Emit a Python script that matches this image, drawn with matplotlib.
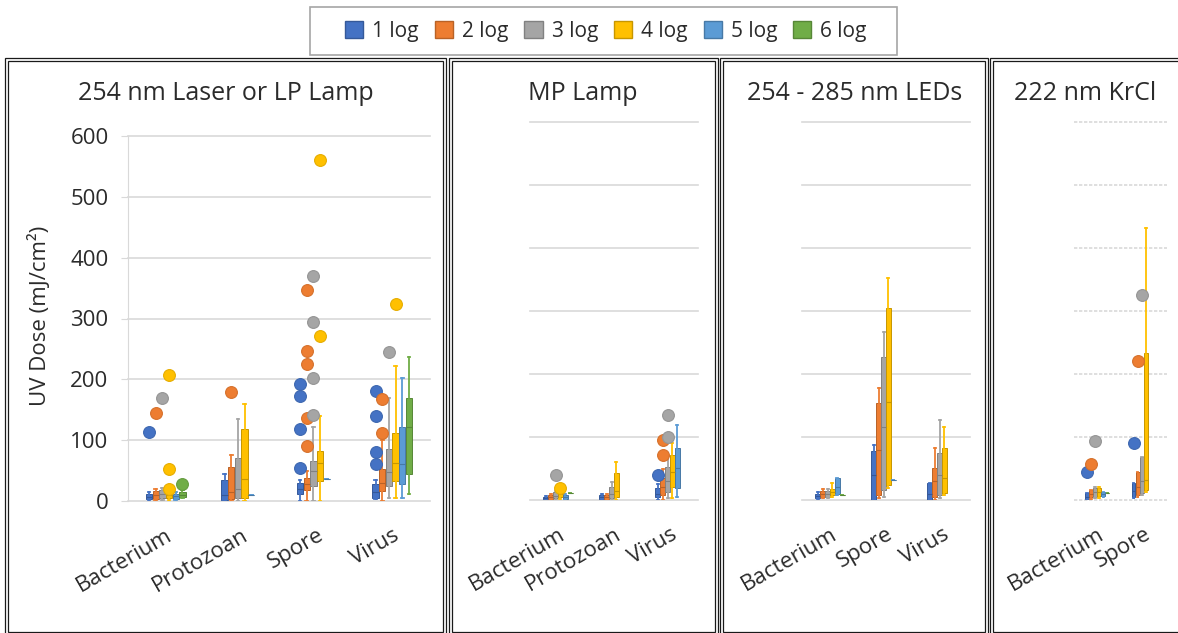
import matplotlib
matplotlib.use("Agg")
import matplotlib.pyplot as plt
import matplotlib.colors as mcolors
from matplotlib.patches import Rectangle, Patch

plt.rcParams['font.family'] = ['Open Sans', 'DejaVu Sans']

series = ["1 log", "2 log", "3 log", "4 log", "5 log", "6 log"]
colors = ["#4472C4", "#ED7D31", "#A5A5A5", "#FFC000", "#5B9BD5", "#70AD47"]

# 254 nm Laser or LP Lamp  (rows = categories, columns = 1..6 log)
laser_cats = ["Bacterium", "Protozoan", "Spore", "Virus"]
laser_lo = [[2, 2, 2, 2, 2, 5], [0, 0, 0, 0, 10, None], [0, 0, 0, 0, 36, None], [3, 0, 5, 5, 5, 12]]
laser_q1 = [[3, 4, 5, 5, 4, 7], [2, 3, 5, 5, 10, None], [12, 18, 25, 33, 36, None], [5, 16, 25, 33, 28, 45]]
laser_med = [[7, 10, 12, 10, 8, 10], [10, 15, 20, 36, 10, None], [20, 28, 50, 63, 36, None], [15, 30, 48, 63, 61, 122]]
laser_q3 = [[12, 16, 18, 15, 12, 15], [35, 56, 71, 118, 10, None], [30, 38, 66, 82, 36, None], [28, 52, 85, 111, 121, 170]]
laser_hi = [[15, 20, 22, 18, 14, 18], [45, 75, 135, 160, 10, None], [35, 49, 121, 140, 36, None], [35, 100, 170, 222, 203, 236]]
laser_out = [
    [[114], [145], [170], [20, 52, 207], [], [28]],
    [[], [180], [], [], [], []],
    [[55, 118, 173, 193], [90, 137, 226, 246, 347], [141, 202, 295, 370], [272, 561], [], []],
    [[61, 81, 140, 181], [111, 168], [245], [324], [], []],
]

# MP Lamp
mp_cats = ["Bacterium", "Protozoan", "Virus"]
mp_lo = [[0, 0, 0, 2, 0, 11], [0, 0, 0, 0, None, None], [0, 0, 3, 3, 5, None]]
mp_q1 = [[1, 2, 3, 5, 2, 11], [1, 1, 3, 5, None, None], [5, 8, 13, 21, 19, None]]
mp_med = [[3, 5, 7, 10, 5, 11], [4, 4, 10, 15, None, None], [10, 20, 30, 45, 51, None]]
mp_q3 = [[5, 8, 12, 15, 8, 11], [8, 8, 21, 43, None, None], [19, 35, 53, 71, 83, None]]
mp_hi = [[6, 10, 15, 17, 10, 11], [10, 10, 29, 61, None, None], [25, 50, 70, 90, 119, None]]
mp_out = [
    [[], [], [40], [19], [], []],
    [[], [], [], [], [], []],
    [[40], [71, 95], [100, 135], [], [], []],
]

# 254 - 285 nm LEDs
led_cats = ["Bacterium", "Spore", "Virus"]
led_lo = [[2, 3, 3, 5, 8, 8], [0, 3, 5, 19, 32, None], [0, 0, 3, 8, None, None]]
led_q1 = [[3, 5, 5, 8, 10, 8], [0, 8, 16, 24, 32, None], [0, 5, 8, 11, None, None]]
led_med = [[6, 10, 10, 12, 20, 8], [40, 80, 116, 156, 32, None], [10, 30, 40, 35, None, None]]
led_q3 = [[10, 15, 15, 18, 35, 8], [77, 154, 227, 305, 32, None], [27, 51, 74, 82, None, None]]
led_hi = [[12, 18, 18, 27, 35, 8], [87, 178, 267, 352, 32, None], [27, 82, 127, 116, None, None]]
led_out = [[[]] * 6, [[]] * 6, [[]] * 6]

# 222 nm KrCl
krcl_cats = ["Bacterium", "Spore"]
krcl_lo = [[0, 2, 3, 3, 5, 11], [3, 5, 8, 13, None, None]]
krcl_q1 = [[1, 4, 5, 6, 7, 11], [5, 8, 11, 16, None, None]]
krcl_med = [[5, 10, 12, 12, 10, 11], [15, 20, 30, 32, None, None]]
krcl_q3 = [[11, 16, 19, 19, 12, 11], [27, 45, 69, 234, None, None]]
krcl_hi = [[11, 16, 20, 21, 13, 11], [27, 45, 69, 432, None, None]]
krcl_out = [[[45], [57], [93], [], [], []], [[91], [221], [325], [], [], []]]

titles = ["254 nm Laser or LP Lamp", "MP Lamp", "254 - 285 nm LEDs", "222 nm KrCl"]

W, H = 1178, 633
TXT = "#2b2b2b"
GRID = "#D9D9D9"


def darker(c, f=0.78):
    r, g, b = mcolors.to_rgb(c)
    return (r * f, g * f, b * f)


def px_axes(fig, x0, x1, ytop, ybot):
    return fig.add_axes([x0 / W, 1 - ybot / H, (x1 - x0) / W, (ybot - ytop) / H])


def px_rect(fig, x0, y0, x1, y1, ec, lw):
    fig.add_artist(Rectangle((x0 / W, 1 - y1 / H), (x1 - x0) / W, (y1 - y0) / H,
                             transform=fig.transFigure, fill=False, ec=ec, lw=lw))


def draw_panel(ax, cats, lo, q1, med, q3, hi, out, ls="-"):
    w = 0.088
    for i, col in enumerate(colors):
        stats, pos = [], []
        for c in range(len(cats)):
            if lo[c][i] is None:
                continue
            stats.append(dict(whislo=lo[c][i], q1=q1[c][i], med=med[c][i],
                              q3=q3[c][i], whishi=hi[c][i], fliers=out[c][i]))
            pos.append(c + 0.5 + (i - 2.5) * w)
        if not stats:
            continue
        edge = darker(col)
        ax.bxp(stats, positions=pos, widths=w * 0.95, patch_artist=True, manage_ticks=False,
               capwidths=w * 0.4,
               boxprops=dict(facecolor=col, edgecolor=edge, lw=0.7),
               whiskerprops=dict(color=col, lw=1.3),
               capprops=dict(color=col, lw=1.3),
               medianprops=dict(color=edge, lw=0.8),
               flierprops=dict(marker='o', markerfacecolor=col, markeredgecolor=darker(col, 0.9),
                               markeredgewidth=0.8, markersize=8.5, zorder=4))
    ax.set_xlim(0, len(cats))
    ax.set_ylim(0, 600)
    ax.set_yticks(range(0, 700, 100))
    ax.grid(axis='y', color=GRID, lw=1.2, ls=ls)
    ax.set_axisbelow(True)
    for gl in ax.get_ygridlines():
        gl.set_clip_on(False)
    ax.set_xticks([c + 0.5 for c in range(len(cats))])
    ax.set_xticklabels(cats, rotation=30, ha='right', rotation_mode='anchor',
                       fontsize=16, color=TXT)
    ax.tick_params(axis='x', length=0, pad=17)
    for s in ax.spines.values():
        s.set_visible(False)


fig = plt.figure(figsize=(W / 100, H / 100), dpi=100)

axes = [px_axes(fig, 128, 430, 136, 501),
        px_axes(fig, 530, 698, 122, 500),
        px_axes(fig, 802, 970, 122, 500),
        px_axes(fig, 1074, 1167, 122, 500)]

draw_panel(axes[0], laser_cats, laser_lo, laser_q1, laser_med, laser_q3, laser_hi, laser_out)
draw_panel(axes[1], mp_cats, mp_lo, mp_q1, mp_med, mp_q3, mp_hi, mp_out)
draw_panel(axes[2], led_cats, led_lo, led_q1, led_med, led_q3, led_hi, led_out)
draw_panel(axes[3], krcl_cats, krcl_lo, krcl_q1, krcl_med, krcl_q3, krcl_hi, krcl_out, ls=(0, (2, 1)))

# y axis only on the first panel
axes[0].spines['left'].set_visible(True)
axes[0].spines['left'].set_color(GRID)
axes[0].tick_params(axis='y', length=5, color=GRID, pad=9, labelsize=16, labelcolor=TXT)
for ax in axes[1:]:
    ax.tick_params(axis='y', length=0, labelleft=False)

fig.text(40 / W, 1 - 316 / H, "UV Dose (mJ/cm²)", rotation=90, ha='center', va='center',
         fontsize=16, color=TXT)

# panel titles
for x, t in zip([226, 583, 855, 1085], titles):
    fig.text(x / W, 1 - 100 / H, t, ha='center', va='baseline', fontsize=18, color=TXT)

# double borders around panels
for x0, x1 in [(5, 446), (449, 718), (720, 988), (990, 1182)]:
    px_rect(fig, x0, 58, x1, 640, "#1a1a1a", 0.9)
    px_rect(fig, x0 + 3, 61, x1 - 3, 632, "#1a1a1a", 0.9)

# legend
px_rect(fig, 310, 7, 897, 55, "#A6A6A6", 1.2)
handles = [Patch(facecolor=c, edgecolor=darker(c)) for c in colors]
fig.legend(handles, series, loc='center', bbox_to_anchor=(606 / W, 1 - 31 / H), ncol=6,
           frameon=False, fontsize=15, handlelength=0.87, handleheight=0.87,
           handletextpad=0.43, columnspacing=0.77, labelcolor=TXT)

fig.savefig("out.png", dpi=100)
